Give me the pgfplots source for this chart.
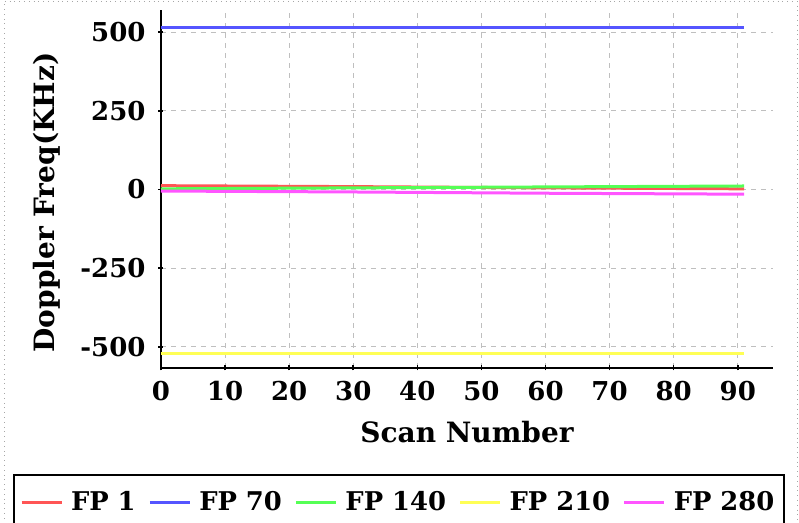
\documentclass[border=0pt]{standalone}
\usepackage{pgfplots}
\pgfplotsset{compat=1.18}
\usepackage{fontspec}
\setmainfont{DejaVu Serif}
\definecolor{cred}{HTML}{FF5555}
\definecolor{cblue}{HTML}{5555FF}
\definecolor{cgreen}{HTML}{55FF55}
\definecolor{cyellow}{HTML}{FFFF55}
\definecolor{cmag}{HTML}{FF55FF}
\begin{document}
\begin{tikzpicture}
\useasboundingbox (0,0) rectangle (399.5pt,261.5pt);
\draw[dotted, gray!70] (2pt,-5pt) rectangle (398.5pt,261pt);
\begin{axis}[
  scale only axis,
  width=306pt, height=179pt,
  at={(80.5pt,77.5pt)}, anchor=south west,
  xmin=0, xmax=95.5, ymin=-567, ymax=570,
  axis lines=left,
  axis line style={-, line width=1pt, black},
  xtick={0,10,...,90},
  ytick={-500,-250,0,250,500},
  major tick length=2.5pt,
  tick style={black, line width=0.8pt},
  grid=major,
  major grid style={gray!50, line width=0.5pt, dash pattern=on 2.5pt off 2.5pt},
  /pgf/number format/assume math mode=true,
  tick label style={font=\bfseries\fontsize{13}{15}\selectfont},
  yticklabel style={xshift=-3pt},
  xticklabel style={yshift=-2pt},
  xlabel={Scan Number},
  ylabel={Doppler Freq(KHz)},
  label style={font=\bfseries\fontsize{14}{16}\selectfont},
  xlabel style={at={(axis description cs:0.5,0)}, anchor=base, yshift=-37.5pt},
  ylabel style={at={(axis description cs:-0.1732,0.462)}, anchor=base},
  legend columns=5,
  legend style={at={(axis description cs:-0.2418,-0.296)}, anchor=north west,
    draw=black, line width=1pt, font=\bfseries\fontsize{12.9}{15}\selectfont,
    /tikz/every even column/.append style={column sep=4.3pt},
    /tikz/every odd column/.append style={column sep=2pt},
    inner xsep=3pt, inner ysep=6pt},
  legend image code/.code={\draw[#1, line width=1.5pt] (0pt,0pt) -- (20pt,0pt);},
  every axis plot/.append style={line width=1.5pt},
]
\addplot[cred] coordinates {(0,12) (30,9) (60,5) (91,2)};
\addlegendentry{FP 1}
\addplot[cblue] coordinates {(0,515) (30,515) (60,515) (91,515)};
\addlegendentry{FP 70}
\addplot[cgreen] coordinates {(0,2) (30,5) (60,8) (91,11)};
\addlegendentry{FP 140}
\addplot[cyellow] coordinates {(0,-521) (30,-521) (60,-521) (91,-521)};
\addlegendentry{FP 210}
\addplot[cmag] coordinates {(0,-5) (30,-8) (60,-12) (91,-15)};
\addlegendentry{FP 280}
\end{axis}
\end{tikzpicture}
\end{document}
